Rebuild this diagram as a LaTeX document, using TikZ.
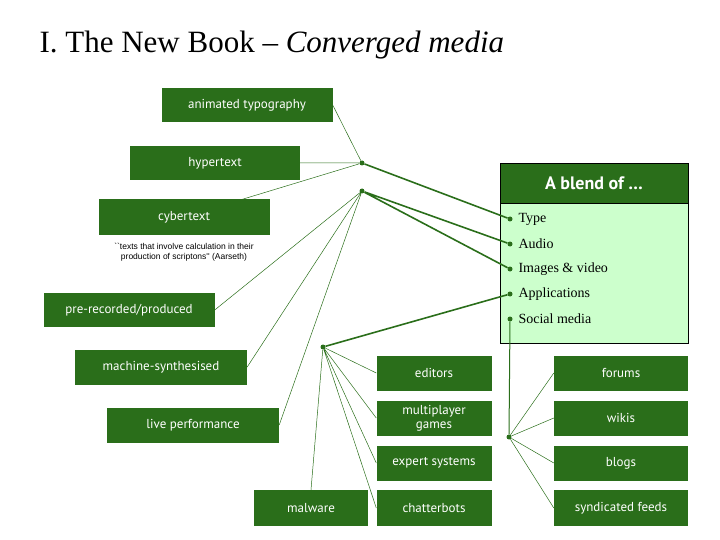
\documentclass[tikz,border=0pt]{standalone}
\usepackage{fontspec}
\setmainfont{Liberation Serif}
\newfontfamily\boxfont{PT Sans}
\newfontfamily\quotefont{Liberation Sans}
\usetikzlibrary{positioning}
\definecolor{darkgreen}{HTML}{2A6E1A}
\definecolor{palegreen}{HTML}{CCFFCC}
\begin{document}
\begin{tikzpicture}[x=1pt, y=-1pt]
				% Setup the styles
				\tikzset{box/.style={fill=darkgreen,
											text=white,
											font=\boxfont\fontsize{13}{14}\selectfont,
											align=center,
											inner sep=0pt},
						 thin link/.style={draw=darkgreen, line width=0.5pt},
						 thick link/.style={draw=darkgreen, line width=1.6pt},
						 dot/.style={circle, fill=darkgreen, inner sep=0pt, minimum size=5pt},
						 item/.style={anchor=west, font=\fontsize{14}{16}\selectfont}}
				\useasboundingbox (0,0) rectangle (720,540);
				\node[anchor=west, font=\fontsize{31}{34}\selectfont] (title) at (36,45)
					{I.\ The New Book -- \textit{Converged media}};
				% Draw the left boxes
				\node[box, minimum width=171pt, minimum height=34pt] at (247,105) (anim) {animated typography};
				\node[box, minimum width=170pt, minimum height=34pt] at (215,163) (hyper) {hypertext};
				\node[box, minimum width=171pt, minimum height=35pt] at (184,217) (cyber) {cybertext};
				\node[font=\quotefont\fontsize{8.5}{10}\selectfont, align=center] at (184,252) (quote)
					{``texts that involve calculation in their\\production of scriptons'' (Aarseth)};
				\node[box, minimum width=171pt, minimum height=34pt] at (129,310) (prerec) {pre-recorded/produced};
				\node[box, minimum width=172pt, minimum height=35pt] at (161,367) (synth) {machine-synthesised};
				\node[box, minimum width=172pt, minimum height=35pt] at (193,425) (live) {live performance};
				\node[box, minimum width=114pt, minimum height=36pt] at (311,508) (malware) {malware};
				% Draw the middle and right boxes
				\node[box, minimum width=115pt, minimum height=35pt] at (434,373) (editors) {editors};
				\node[box, minimum width=115pt, minimum height=35pt] at (434,418) (multi) {multiplayer\\games};
				\node[box, minimum width=115pt, minimum height=35pt] at (434,463) (expert) {expert systems};
				\node[box, minimum width=115pt, minimum height=36pt] at (434,508) (chatter) {chatterbots};
				\node[box, minimum width=134pt, minimum height=35pt] at (621,373) (forums) {forums};
				\node[box, minimum width=134pt, minimum height=35pt] at (621,418) (wikis) {wikis};
				\node[box, minimum width=134pt, minimum height=35pt] at (621,463) (blogs) {blogs};
				\node[box, minimum width=134pt, minimum height=36pt] at (621,508) (feeds) {syndicated feeds};
				% The blend panel
				\draw[fill=palegreen, line width=0.8pt] (500,163) rectangle (688,343);
				\node[box, draw=black, line width=0.8pt, minimum width=188pt, minimum height=40pt,
					  font=\boxfont\bfseries\fontsize{18}{20}\selectfont] at (594,183) (blend) {A blend of \dots};
				\foreach \name/\txt [count=\i] in {type/Type, audio/Audio, images/Images \& video,
						apps/Applications, social/Social media} {
					\node[dot] at (510,194+25*\i) (d\name) {};
					\node[item] at (515,194+25*\i) (\name) {\txt};
				}
				% Junctions
				\node[dot] at (362,163) (j1) {};
				\node[dot] at (362,191) (j2) {};
				\node[dot] at (323,347) (j3) {};
				\node[dot] at (509,437) (j4) {};
				% Connect
				\draw[thin link] (anim.east) -- (j1) (hyper) -- (j1) (cyber) -- (j1);
				\draw[thin link] (j2) -- (prerec.east) (j2) -- (synth.east) (j2) -- (live.east);
				\draw[thin link] (j3) -- (editors.west) (j3) -- (multi.west)
					(j3) -- (expert.west) (j3) -- (chatter.west) (j3) -- (malware.north);
				\draw[thin link] (j4) -- (forums.west) (j4) -- (wikis.west)
					(j4) -- (blogs.west) (j4) -- (feeds.west);
				\draw[thick link] (j1) -- (dtype) (j2) -- (daudio) (j2) -- (dimages) (j3) -- (dapps);
				\draw[draw=darkgreen, line width=1pt] (dsocial) -- (j4);
			\end{tikzpicture}
\end{document}
